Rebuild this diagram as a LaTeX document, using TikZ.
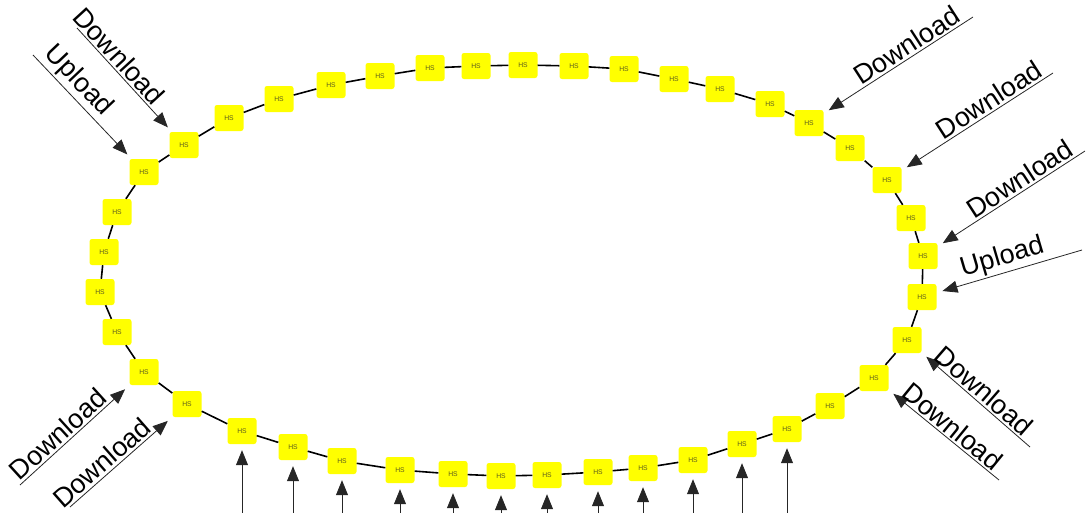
\documentclass[tikz,border=0pt]{standalone}
\usepackage{fontspec}
\setmainfont{Liberation Sans}
\usepackage{xcolor}
\usetikzlibrary{arrows.meta}

\definecolor{hsyellow}{RGB}{255,255,0}
\definecolor{hstext}{RGB}{95,95,30}

\begin{document}
\begin{tikzpicture}[
  x=1pt, y=-1pt,
  hs/.style={fill=hsyellow, rounded corners=2.5pt, minimum width=29pt, minimum height=26pt,
    inner sep=0pt, text=hstext, font=\fontsize{6.8}{7}\selectfont},
  ring/.style={line width=1.6pt},
  feed/.style={-{Triangle[length=15pt, width=12pt]}, line width=0.8pt, black!85, shorten >=6pt},
  lbl/.style={sloped, above, inner sep=2pt, text=black, font=\fontsize{27}{30}\selectfont}
]
\useasboundingbox (0,0) rectangle (1091,512);

\node[hs] (hs1) at (144,172) {HS};
\node[hs] (hs2) at (184,145) {HS};
\node[hs] (hs3) at (229,118) {HS};
\node[hs] (hs4) at (279,99) {HS};
\node[hs] (hs5) at (331,85) {HS};
\node[hs] (hs6) at (380,76) {HS};
\node[hs] (hs7) at (430,68) {HS};
\node[hs] (hs8) at (476,66) {HS};
\node[hs] (hs9) at (523,65) {HS};
\node[hs] (hs10) at (574,66) {HS};
\node[hs] (hs11) at (624,69) {HS};
\node[hs] (hs12) at (674,79) {HS};
\node[hs] (hs13) at (720,89) {HS};
\node[hs] (hs14) at (770,104) {HS};
\node[hs] (hs15) at (809,123) {HS};
\node[hs] (hs16) at (850,148) {HS};
\node[hs] (hs17) at (887,180) {HS};
\node[hs] (hs18) at (911,218) {HS};
\node[hs] (hs19) at (923,256) {HS};
\node[hs] (hs20) at (922,297) {HS};
\node[hs] (hs21) at (907,340) {HS};
\node[hs] (hs22) at (874,378) {HS};
\node[hs] (hs23) at (830,406) {HS};
\node[hs] (hs24) at (787,429) {HS};
\node[hs] (hs25) at (742,444) {HS};
\node[hs] (hs26) at (693,460) {HS};
\node[hs] (hs27) at (643,468) {HS};
\node[hs] (hs28) at (598,472) {HS};
\node[hs] (hs29) at (547,475) {HS};
\node[hs] (hs30) at (501,476) {HS};
\node[hs] (hs31) at (453,474) {HS};
\node[hs] (hs32) at (400,470) {HS};
\node[hs] (hs33) at (342,461) {HS};
\node[hs] (hs34) at (293,447) {HS};
\node[hs] (hs35) at (242,431) {HS};
\node[hs] (hs36) at (187,404) {HS};
\node[hs] (hs37) at (144,372) {HS};
\node[hs] (hs38) at (117,332) {HS};
\node[hs] (hs39) at (100,292) {HS};
\node[hs] (hs40) at (104,252) {HS};
\node[hs] (hs41) at (117,212) {HS};

\draw[ring] (hs1) -- (hs2) -- (hs3) -- (hs4) -- (hs5) -- (hs6) -- (hs7) -- (hs8)
  -- (hs9) -- (hs10) -- (hs11) -- (hs12) -- (hs13) -- (hs14) -- (hs15) -- (hs16)
  -- (hs17) -- (hs18) -- (hs19) -- (hs20) -- (hs21) -- (hs22) -- (hs23) -- (hs24)
  -- (hs25) -- (hs26) -- (hs27) -- (hs28) -- (hs29) -- (hs30) -- (hs31) -- (hs32)
  -- (hs33) -- (hs34) -- (hs35) -- (hs36) -- (hs37) -- (hs38) -- (hs39) -- (hs40)
  -- (hs41) -- (hs1);

\coordinate (dlNW) at (77,28);
\coordinate (ulNW) at (33,55);
\coordinate (dlSW1) at (20,485);
\coordinate (dlSW2) at (70,507);
\coordinate (dlNE1) at (973,17);
\coordinate (dlNE2) at (1053,73);
\coordinate (dlNE3) at (1085,151);
\coordinate (ulE) at (1082,250);
\coordinate (dlSE1) at (1030,447);
\coordinate (dlSE2) at (999,480);

\draw[feed] (dlNW) -- node[lbl, pos=.35] {Download} (hs2);
\draw[feed] (ulNW) -- node[lbl, pos=.35] {Upload} (hs1);
\draw[feed] (dlSW1) -- node[lbl, pos=.42] {Download} (hs37);
\draw[feed] (dlSW2) -- node[lbl, pos=.39] {Download} (hs36);
\draw[feed] (dlNE1) -- node[lbl, pos=.40] {Download} (hs15);
\draw[feed] (dlNE2) -- node[lbl, pos=.38] {Download} (hs17);
\draw[feed] (dlNE3) -- node[lbl, pos=.40] {Download} (hs19);
\draw[feed] (ulE) -- node[lbl, pos=.52] {Upload} (hs20);
\draw[feed] (dlSE1) -- node[lbl, pos=.50] {Download} (hs21);
\draw[feed] (dlSE2) -- node[lbl, pos=.49] {Download} (hs22);

\foreach \n in {24,...,35}
  \draw[feed] (hs\n |- 0,530) -- (hs\n);
\end{tikzpicture}
\end{document}
